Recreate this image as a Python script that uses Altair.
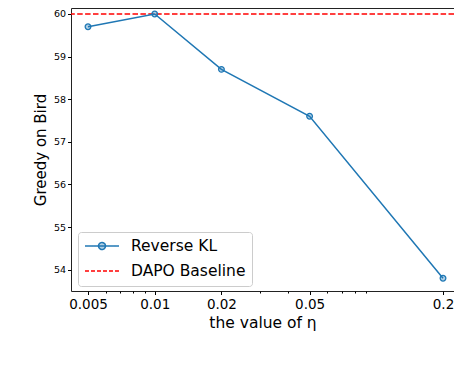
import altair as alt
import pandas as pd

# ---- data ----
eta = [0.005, 0.01, 0.02, 0.05, 0.2]
greedy = [59.7, 60.0, 58.7, 57.6, 53.8]
baseline_value = [60.0]
series_names = ["Reverse KL", "DAPO Baseline"]
series_colors = ["#1f77b4", "#ff0000"]
x_tick_values = [0.005, 0.01, 0.02, 0.05, 0.2]
x_minor_values = [0.006, 0.007, 0.008, 0.009, 0.03, 0.04, 0.06, 0.07, 0.08, 0.09]
y_tick_values = [54, 55, 56, 57, 58, 59, 60]

df = pd.DataFrame({"eta": eta, "greedy": greedy, "series": series_names[0]})
df_base = pd.DataFrame({"greedy": baseline_value, "series": series_names[1]})

FONT = "DejaVu Sans"
x_scale = alt.Scale(type="log", domain=[0.00419, 0.2242], nice=False)
y_scale = alt.Scale(domain=[53.5, 60.14], nice=False, zero=False)
color_scale = alt.Scale(domain=series_names, range=series_colors)

sym_path = "M-2.43,0L2.43,0M-0.5,0A0.5,0.5,0,1,0,0.5,0A0.5,0.5,0,1,0,-0.5,0Z"
line_path = "M-2.43,0L2.43,0"

legend = alt.Legend(
    title=None,
    orient="none",
    legendX=7,
    legendY=224,
    symbolType={"expr": f"datum.value == 'Reverse KL' ? '{sym_path}' : '{line_path}'"},
    symbolDash={"expr": "datum.value == 'DAPO Baseline' ? [4, 2] : [1, 0]"},
    symbolFillColor={"expr": "datum.value == 'Reverse KL' ? 'rgba(31,119,180,0.35)' : 'transparent'"},
    symbolSize=196,
    symbolStrokeWidth=1.5,
    symbolOffset=10,
    labelOffset=21,
    labelFontSize=15.5,
    labelFont=FONT,
    labelColor="black",
    rowPadding=8,
    padding=6,
    strokeColor="#cccccc",
    fillColor="white",
    cornerRadius=3,
)

x_axis = alt.Axis(
    values=x_tick_values, format="~g", title="the value of η", orient="bottom",
    labelFontSize=13.5, labelFontWeight="normal", titleFontSize=15.5,
    titleFontWeight="normal", grid=False, domain=False,
    tickSize=3.5, tickColor="black", labelColor="black", titleColor="black",
    labelPadding=3, titlePadding=4, labelFlush=False, labelOverlap=False,
)
y_axis = alt.Axis(
    values=y_tick_values, title="Greedy on Bird", labelFontSize=9.5,
    labelFontWeight="normal", titleFontSize=15, titleFontWeight="normal",
    grid=False, domain=False, tickSize=3.5, tickColor="black",
    labelColor="black", titleColor="black", labelPadding=2, titlePadding=5,
)

rule = alt.Chart(df_base).mark_rule(strokeDash=[5.5, 2.4], strokeWidth=1.5).encode(
    y=alt.Y("greedy:Q", scale=y_scale, axis=y_axis),
    color=alt.Color("series:N", scale=color_scale, legend=legend),
)

line = alt.Chart(df).mark_line(strokeWidth=1.5).encode(
    x=alt.X("eta:Q", scale=x_scale, axis=x_axis),
    y=alt.Y("greedy:Q", scale=y_scale, axis=y_axis),
    color=alt.Color("series:N", scale=color_scale, legend=legend),
)

points = alt.Chart(df).mark_point(
    shape="circle", size=32, filled=False, stroke="#1f77b4", strokeWidth=1.3,
    fill="#1f77b4", fillOpacity=0.35, opacity=1,
).encode(
    x=alt.X("eta:Q", scale=x_scale, axis=None),
    y=alt.Y("greedy:Q", scale=y_scale, axis=y_axis),
)

minor = alt.Chart(df).mark_point(opacity=0).encode(
    x=alt.X("eta:Q", scale=x_scale, axis=alt.Axis(
        values=x_minor_values, labels=False, title=None, orient="bottom",
        grid=False, domain=False, tickSize=2, tickColor="black")),
)

chart = alt.layer(rule, line, points, minor).resolve_axis(x="independent").properties(
    width=383,
    height=283,
    autosize=alt.AutoSizeParams(type="none"),
    padding={"left": 63, "top": 0, "right": 0, "bottom": 60},
).configure(font=FONT).configure_view(stroke="#222222", strokeWidth=1)

chart.save("out.html", embed_options={"renderer": "svg", "actions": False})
